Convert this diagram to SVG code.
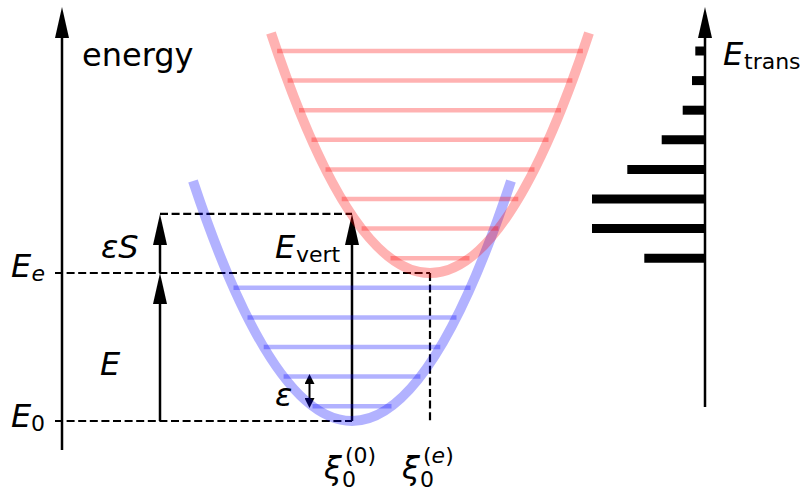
<svg xmlns="http://www.w3.org/2000/svg" width="804" height="493" viewBox="0 0 804 493">
<defs>
<marker id="head" viewBox="0 0 31 14" refX="11" refY="7" markerWidth="31" markerHeight="14" markerUnits="userSpaceOnUse" orient="auto-start-reverse">
<path d="M0,0 L31,7 L0,14 z" fill="#000"/>
</marker>
<marker id="small" viewBox="0 0 10 10" refX="4" refY="5" markerWidth="10" markerHeight="10" markerUnits="userSpaceOnUse" orient="auto-start-reverse">
<path d="M0,0 L10,5 L0,10 z" fill="#000"/>
</marker>
</defs>
<style>
.ax{stroke:#000;stroke-width:2.5;fill:none}
.dash{stroke:#000;stroke-width:2.2;stroke-dasharray:8 3.6;fill:none}
.blue{stroke:#0000ff;stroke-opacity:0.3;fill:none}
.red{stroke:#ff0000;stroke-opacity:0.3;fill:none}
.curve{stroke-width:10}
.lvl{stroke-width:4.5}
.t{font-family:"DejaVu Sans","Liberation Sans",sans-serif;fill:#000}
.m{font-style:italic}
.big{font-size:32px}
.sub{font-size:22px}
.bar{stroke:#000;stroke-width:9}
</style>
<rect width="804" height="493" fill="#fff"/>

<g id="axes">
<line class="ax" x1="62" y1="450" x2="62" y2="27" marker-end="url(#head)"/>
<line class="ax" x1="705" y1="407" x2="705" y2="27" marker-end="url(#head)"/>
</g>

<g id="connectors">
<line class="dash" x1="55" y1="421" x2="352" y2="421"/>
<line class="dash" x1="55" y1="273" x2="430" y2="273"/>
<line class="dash" x1="160" y1="213.8" x2="352" y2="213.8"/>
<line class="dash" x1="430" y1="273" x2="430" y2="421"/>
<line class="ax" x1="160" y1="421" x2="160" y2="293" marker-end="url(#head)"/>
<line class="ax" x1="160" y1="273" x2="160" y2="234" marker-end="url(#head)"/>
<line class="ax" x1="352" y1="421" x2="352" y2="234" marker-end="url(#head)"/>
<line x1="309.5" y1="380" x2="309.5" y2="402" stroke="#000" stroke-width="2" marker-start="url(#small)" marker-end="url(#small)"/>
</g>

<g id="bars">
<line class="bar" x1="695.3" y1="51" x2="705" y2="51"/>
<line class="bar" x1="692" y1="80.6" x2="705" y2="80.6"/>
<line class="bar" x1="682.7" y1="110.2" x2="705" y2="110.2"/>
<line class="bar" x1="661.7" y1="139.8" x2="705" y2="139.8"/>
<line class="bar" x1="627.3" y1="169.4" x2="705" y2="169.4"/>
<line class="bar" x1="592" y1="199" x2="705" y2="199"/>
<line class="bar" x1="592" y1="228.6" x2="705" y2="228.6"/>
<line class="bar" x1="644.3" y1="258.2" x2="705" y2="258.2"/>
</g>

<g id="ground-state">
<path class="blue curve" d="M193,181 Q352,661 511,181"/>
<line class="blue lvl" x1="312.5" y1="406.2" x2="391.5" y2="406.2"/>
<line class="blue lvl" x1="283.6" y1="376.6" x2="420.4" y2="376.6"/>
<line class="blue lvl" x1="263.7" y1="347" x2="440.3" y2="347"/>
<line class="blue lvl" x1="247.5" y1="317.4" x2="456.5" y2="317.4"/>
<line class="blue lvl" x1="233.5" y1="287.8" x2="470.5" y2="287.8"/>
</g>

<g id="excited-state">
<path class="red curve" d="M271,33 Q430,513 589,33"/>
<line class="red lvl" x1="390.5" y1="258.2" x2="469.5" y2="258.2"/>
<line class="red lvl" x1="361.6" y1="228.6" x2="498.4" y2="228.6"/>
<line class="red lvl" x1="341.7" y1="199" x2="518.3" y2="199"/>
<line class="red lvl" x1="325.5" y1="169.4" x2="534.5" y2="169.4"/>
<line class="red lvl" x1="311.5" y1="139.8" x2="548.5" y2="139.8"/>
<line class="red lvl" x1="299" y1="110.2" x2="561" y2="110.2"/>
<line class="red lvl" x1="287.6" y1="80.6" x2="572.4" y2="80.6"/>
<line class="red lvl" x1="277.1" y1="51" x2="582.9" y2="51"/>
</g>

<g id="labels">
<text class="t big" x="82" y="66">energy</text>
<text class="t big m" x="101" y="258">εS</text>
<text class="t big m" x="100" y="375">E</text>
<text class="t big m" x="275" y="406">ε</text>
<text class="t big m" x="11" y="277">E</text>
<text class="t sub m" x="31.5" y="281">e</text>
<text class="t big m" x="11" y="427">E</text>
<text class="t sub" x="31" y="431">0</text>
<text class="t big m" x="275" y="258">E</text>
<text class="t sub" x="296" y="262">vert</text>
<text class="t big m" x="723" y="65">E</text>
<text class="t sub" x="744" y="69">trans</text>
<text class="t big m" x="324" y="479">ξ</text>
<text class="t sub" x="342" y="487">0</text>
<text class="t sub" x="345" y="463">(0)</text>
<text class="t big m" x="402" y="479">ξ</text>
<text class="t sub" x="420" y="487">0</text>
<text class="t sub" x="423" y="463">(<tspan class="m">e</tspan>)</text>
</g>
</svg>
